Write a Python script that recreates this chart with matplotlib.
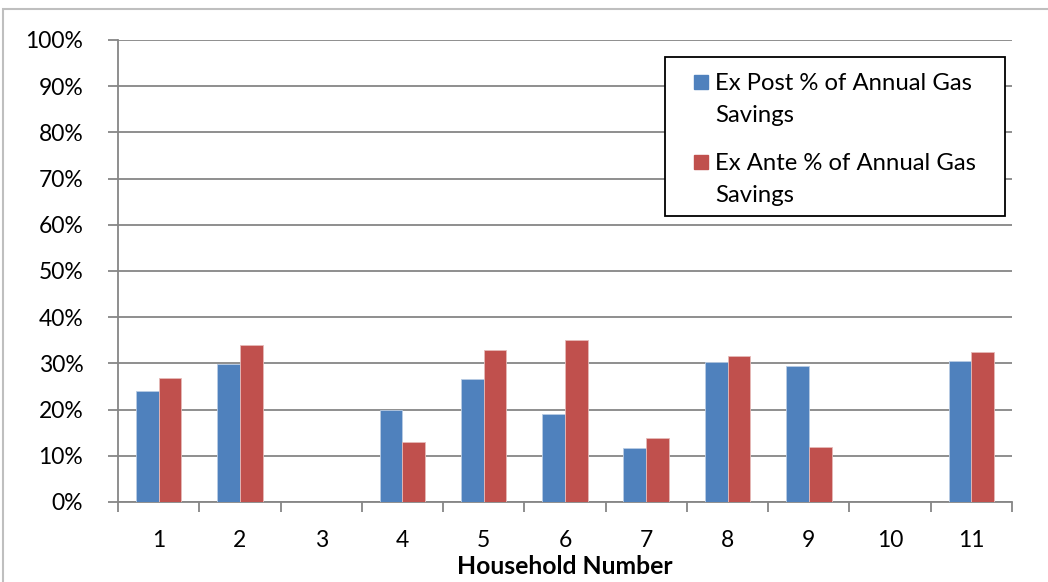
import numpy as np
import matplotlib
matplotlib.use("Agg")
import matplotlib.pyplot as plt
from matplotlib.patches import Rectangle

plt.rcParams['font.family'] = ['Lato', 'DejaVu Sans']

households = ['1', '2', '3', '4', '5', '6', '7', '8', '9', '10', '11']
ex_post = [24.0, 29.9, 0, 19.9, 26.6, 19.0, 11.6, 30.2, 29.5, 0, 30.5]
ex_ante = [26.9, 34.0, 0, 12.9, 32.9, 35.0, 13.9, 31.7, 11.9, 0, 32.4]
series_labels = ['Ex Post % of Annual Gas\nSavings', 'Ex Ante % of Annual Gas\nSavings']

blue = '#4f81bd'
red = '#c0504d'
grey = '#868686'
fs = 16.5
W, H = 1048, 582

fig = plt.figure(figsize=(10.48, 5.82), dpi=100)
ax = fig.add_axes([0.1126, 0.1375, 0.853, 0.7938])

def fx(px):
    return px / W

def fy(py):
    return 1 - py / H

# outer chart frame
fig.patches.append(Rectangle((0.003, -0.01), 1.1, 0.995, transform=fig.transFigure,
                             fill=False, edgecolor='#bfbfbf', linewidth=1.5))

x = np.arange(len(households))
w = 0.28
ax.bar(x - w / 2, ex_post, w, color=blue, edgecolor='#b8cce4', linewidth=0.6, zorder=3)
ax.bar(x + w / 2, ex_ante, w, color=red, edgecolor='#e6b9b8', linewidth=0.6, zorder=3)

ax.set_xlim(-0.5, len(households) - 0.5)
ax.set_ylim(0, 100)
ax.set_yticks(np.arange(0, 101, 10))
ax.set_yticklabels([f'{v}%' for v in range(0, 101, 10)])
ax.yaxis.grid(True, color=grey, linewidth=1.3, zorder=0)

ax.set_xticks(x)
ax.set_xticklabels(households)
ax.set_xticks(np.arange(-0.5, len(households), 1), minor=True)
ax.tick_params(axis='x', which='major', length=0, labelsize=fs, pad=20)
ax.tick_params(axis='x', which='minor', length=7, color=grey, width=1.3, direction='out')
ax.tick_params(axis='y', length=7, color=grey, width=1.3, labelsize=fs, pad=18)

for s in ['top', 'right']:
    ax.spines[s].set_visible(False)
for s in ['left', 'bottom']:
    ax.spines[s].set_color(grey)
    ax.spines[s].set_linewidth(1.3)

ax.set_xlabel('Household Number', fontsize=17.8, fontweight='bold', labelpad=3)

# legend box drawn by hand (marker sits on the first line of each label)
fig.patches.append(Rectangle((fx(665), fy(216)), fx(1005) - fx(665), fy(57) - fy(216),
                             transform=fig.transFigure, facecolor='white',
                             edgecolor='black', linewidth=1.3, zorder=5))
for lab, col, top in zip(series_labels, [blue, red], [75, 155]):
    fig.patches.append(Rectangle((fx(694), fy(top + 14)), fx(14), 14 / H,
                                 transform=fig.transFigure, color=col, zorder=6))
    for i, line in enumerate(lab.split('\n')):
        fig.text(fx(715), fy(top + 15 + 32 * i), line, fontsize=17.2, va='baseline',
                 ha='left', zorder=6)

fig.savefig('out.png', dpi=100)
